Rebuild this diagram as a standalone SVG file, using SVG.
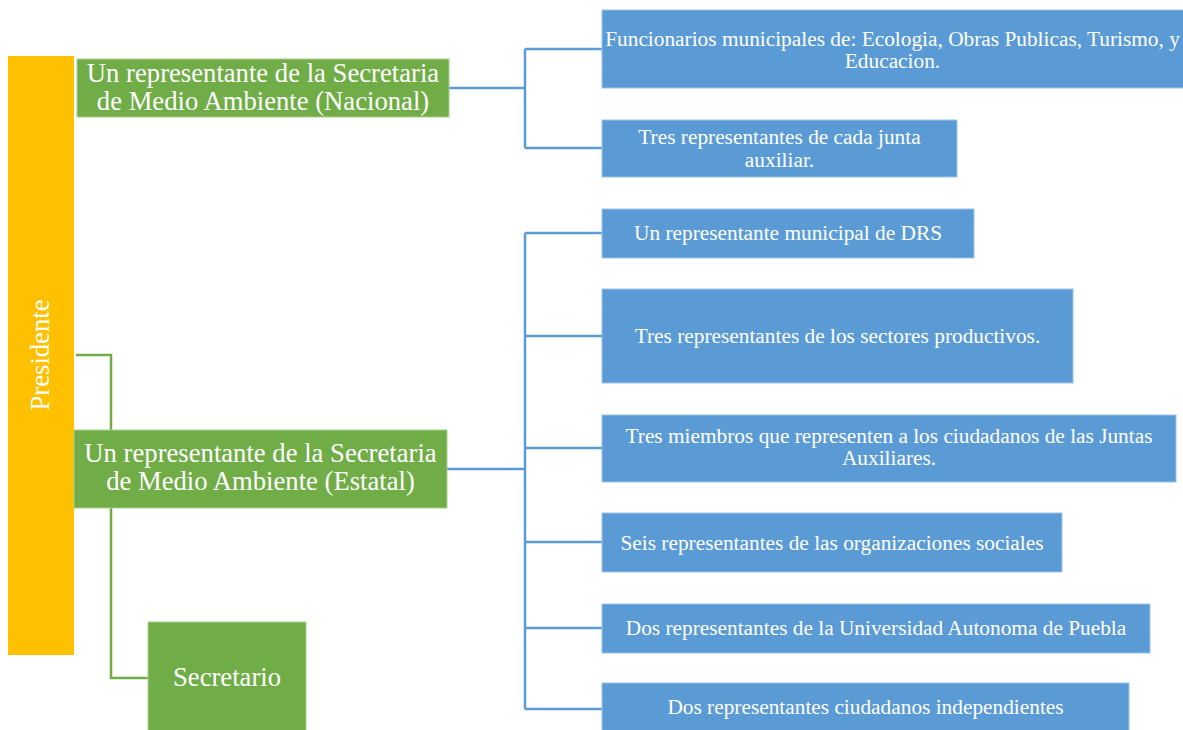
<svg xmlns="http://www.w3.org/2000/svg" width="1183" height="730" viewBox="0 0 1183 730">
<style>
.bg{fill:#ffffff}
.yel{fill:#FFC000}
.grn{fill:#70AD47;stroke:#A9CF8F;stroke-width:1}
.blu{fill:#5B9BD5;stroke:#9DC3E6;stroke-width:1}
.cb{fill:none;stroke:#5B9BD5;stroke-width:2.5}
.cg{fill:none;stroke:#70AD47;stroke-width:2.5}
.tg{font-family:"Liberation Serif","Times New Roman",serif;font-size:26.67px;fill:#ffffff;text-anchor:middle}
.tb{font-family:"Liberation Serif","Times New Roman",serif;font-size:21.33px;fill:#ffffff;text-anchor:middle}
</style>
<rect class="bg" x="0" y="0" width="1183" height="730"/>
<g id="connectors">
<path class="cg" d="M76,355 H111 V678 H148"/>
<path class="cb" d="M449,88 H525 M525,49 V148 M525,49 H602 M525,148 H602"/>
<path class="cb" d="M447,469 H525 M525,233 V709 M525,233 H602 M525,336 H602 M525,448 H602 M525,542 H602 M525,628 H602 M525,709 H602"/>
</g>
<g id="presidente">
<rect class="yel" x="8" y="56" width="66" height="599"/>
<text class="tg" transform="translate(49,355) rotate(-90)" x="0" y="0">Presidente</text>
</g>
<g id="nacional">
<rect class="grn" x="77" y="59" width="372" height="58"/>
<text class="tg" x="263" y="82">Un representante de la Secretaria</text>
<text class="tg" x="263" y="110">de Medio Ambiente (Nacional)</text>
</g>
<g id="estatal">
<rect class="grn" x="74" y="430" width="373" height="78"/>
<text class="tg" x="260.5" y="462">Un representante de la Secretaria</text>
<text class="tg" x="260.5" y="490">de Medio Ambiente (Estatal)</text>
</g>
<g id="secretario">
<rect class="grn" x="148" y="622" width="158" height="112"/>
<text class="tg" x="227" y="686">Secretario</text>
</g>
<g id="funcionarios">
<rect class="blu" x="602" y="10" width="584" height="78"/>
<text class="tb" x="892.5" y="46">Funcionarios municipales de: Ecologia, Obras Publicas, Turismo, y</text>
<text class="tb" x="892.5" y="68">Educacion.</text>
</g>
<g id="junta">
<rect class="blu" x="602" y="120" width="355" height="57"/>
<text class="tb" x="779.5" y="144">Tres representantes de cada junta</text>
<text class="tb" x="779.5" y="167">auxiliar.</text>
</g>
<g id="drs">
<rect class="blu" x="602" y="209" width="372" height="49"/>
<text class="tb" x="788" y="240">Un representante municipal de DRS</text>
</g>
<g id="sectores">
<rect class="blu" x="602" y="289" width="471" height="94"/>
<text class="tb" x="837.5" y="343">Tres representantes de los sectores productivos.</text>
</g>
<g id="miembros">
<rect class="blu" x="602" y="415" width="574" height="67"/>
<text class="tb" x="889" y="443">Tres miembros que representen a los ciudadanos de las Juntas</text>
<text class="tb" x="889" y="465">Auxiliares.</text>
</g>
<g id="sociales">
<rect class="blu" x="602" y="513" width="460" height="59"/>
<text class="tb" x="832" y="550">Seis representantes de las organizaciones sociales</text>
</g>
<g id="universidad">
<rect class="blu" x="602" y="604" width="548" height="49"/>
<text class="tb" x="876" y="635">Dos representantes de la Universidad Autonoma de Puebla</text>
</g>
<g id="ciudadanos">
<rect class="blu" x="602" y="683" width="527" height="50"/>
<text class="tb" x="865.5" y="714">Dos representantes ciudadanos independientes</text>
</g>
</svg>
